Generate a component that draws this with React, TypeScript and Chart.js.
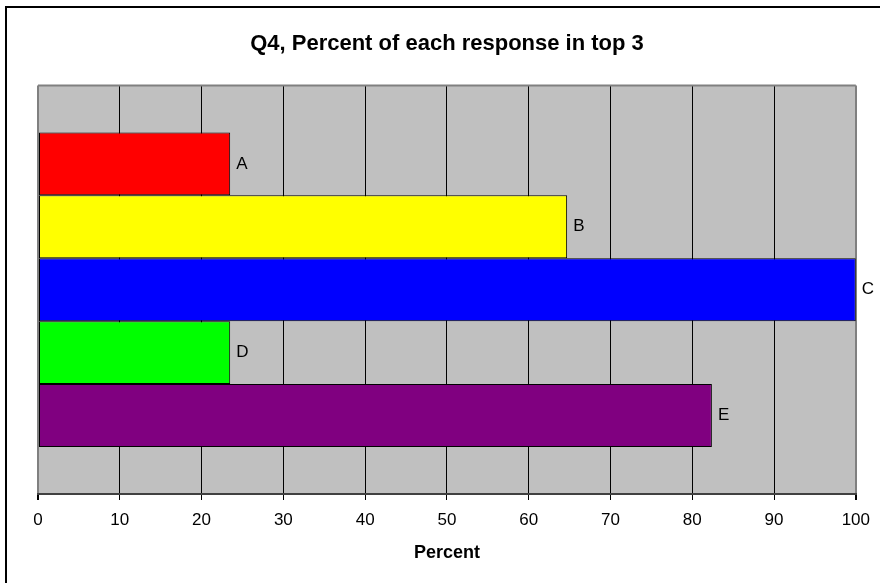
import React, { useEffect, useRef } from "react";
import { Chart, registerables } from "chart.js";

Chart.register(...registerables);

const responses: string[] = ["A", "B", "C", "D", "E"];
const percents: number[] = [23.5, 64.7, 100, 23.5, 82.4];
const barColors: string[] = ["#FF0000", "#FFFF00", "#0000FF", "#00FF00", "#800080"];
const xTicks: number[] = [0, 10, 20, 30, 40, 50, 60, 70, 80, 90, 100];
const chartTitle = "Q4, Percent of each response in top 3";
const xAxisTitle = "Percent";

const FONT = "'Liberation Sans', Arial, sans-serif";

const decorPlugin = {
  id: "decor",
  beforeDraw(chart: any) {
    const { ctx, chartArea } = chart;
    ctx.save();
    ctx.strokeStyle = "#000";
    ctx.lineWidth = 2;
    ctx.beginPath();
    ctx.moveTo(6, 583);
    ctx.lineTo(6, 7);
    ctx.lineTo(880, 7);
    ctx.stroke();
    ctx.fillStyle = "#C0C0C0";
    ctx.fillRect(chartArea.left, chartArea.top, chartArea.right - chartArea.left, chartArea.bottom - chartArea.top);
    ctx.restore();
  },
  beforeDatasetsDraw(chart: any) {
    const { ctx, chartArea } = chart;
    ctx.save();
    ctx.strokeStyle = "#808080";
    ctx.lineWidth = 2;
    ctx.beginPath();
    ctx.moveTo(chartArea.left, chartArea.top);
    ctx.lineTo(chartArea.right, chartArea.top);
    ctx.stroke();
    ctx.restore();
  },
  afterDatasetsDraw(chart: any) {
    const { ctx } = chart;
    ctx.save();
    ctx.font = `17px ${FONT}`;
    ctx.fillStyle = "#000";
    ctx.textAlign = "left";
    ctx.textBaseline = "middle";
    chart.data.datasets.forEach((ds: any, i: number) => {
      const meta = chart.getDatasetMeta(i);
      const bar = meta.data[0];
      if (!bar) return;
      ctx.fillText(ds.label, bar.x + 6, bar.y);
    });
    ctx.restore();
  },
};

export default function App() {
  const canvasRef = useRef<HTMLCanvasElement | null>(null);

  useEffect(() => {
    if (!canvasRef.current) return;
    Chart.defaults.font.family = FONT;
    Chart.defaults.color = "#000";
    const chart = new Chart(canvasRef.current, {
      type: "bar",
      data: {
        labels: [""],
        datasets: responses.map((r, i) => ({
          label: r,
          data: [percents[i]],
          backgroundColor: barColors[i],
          borderColor: "#000",
          borderWidth: 1,
          borderSkipped: false,
          categoryPercentage: 0.77,
          barPercentage: 1.0,
        })),
      },
      options: {
        indexAxis: "y",
        animation: false,
        responsive: true,
        maintainAspectRatio: false,
        layout: { padding: { left: 38, right: 24, top: 0, bottom: 19 } },
        plugins: {
          legend: { display: false },
          tooltip: { enabled: false },
          title: {
            display: true,
            text: chartTitle,
            color: "#000",
            font: { size: 22, weight: "bold", family: FONT },
            padding: { top: 31, bottom: 28 },
          },
        },
        scales: {
          x: {
            type: "linear",
            min: 0,
            max: 100,
            afterBuildTicks: (axis: any) => {
              axis.ticks = xTicks.map((v) => ({ value: v }));
            },
            grid: {
              color: (c: any) => (c.index === 0 || c.index === xTicks.length - 1 ? "#808080" : "#000"),
              lineWidth: (c: any) => (c.index === 0 || c.index === xTicks.length - 1 ? 2 : 1),
              tickColor: "#000",
              tickLength: 6,
              drawTicks: true,
            },
            border: { display: true, color: "#404040", width: 2 },
            ticks: {
              color: "#000",
              font: { size: 17, family: FONT },
              padding: 10,
              maxRotation: 0,
            },
            title: {
              display: true,
              text: xAxisTitle,
              color: "#000",
              font: { size: 18, weight: "bold", family: FONT },
              padding: { top: 2, bottom: 0 },
            },
          },
          y: {
            type: "category",
            display: false,
            grid: { display: false },
          },
        },
      },
      plugins: [decorPlugin],
    } as any);
    return () => chart.destroy();
  }, []);

  return (
    <div style={{ position: "fixed", left: 0, top: 0, width: 880, height: 583, background: "#fff" }}>
      <canvas ref={canvasRef} />
    </div>
  );
}
